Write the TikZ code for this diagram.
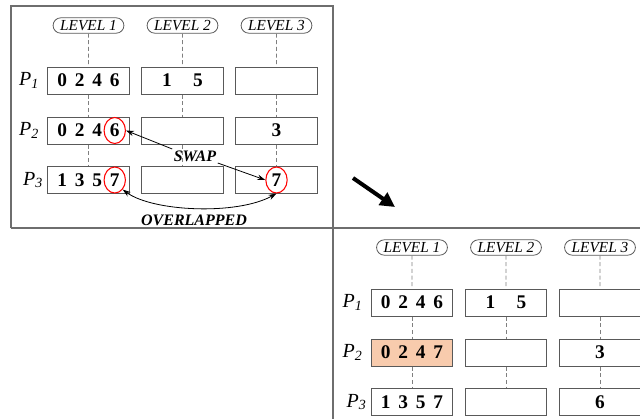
\documentclass[tikz,border=0pt]{standalone}
\usepackage{fontspec}
\setmainfont{Liberation Serif}
\usetikzlibrary{shapes.misc,shapes.geometric,arrows.meta,calc}

\definecolor{edge}{HTML}{595959}
\definecolor{guide}{HTML}{7F7F7F}
\definecolor{peach}{HTML}{F8CBAD}
\definecolor{frame}{HTML}{6E6E6E}

% one fixed-width slot per key inside a cell
\newcommand\dg[1]{\makebox[13.125pt]{#1}}
% process label P_i
\newcommand\proc[1]{\fontsize{15}{15}\selectfont\textit{P}\textsubscript{\textit{#1}}}

\begin{document}
\begin{tikzpicture}[x=0.75pt,y=-0.75pt,
  lvl/.style={rounded rectangle, draw=edge, line width=0.6pt, minimum width=54.75pt,
    minimum height=11.5pt, inner sep=0.8pt, font=\fontsize{11.5}{11.5}\selectfont\itshape},
  cell/.style={draw=edge, line width=0.75pt, fill=white, minimum width=61pt,
    minimum height=20.25pt, inner sep=0pt, font=\fontsize{14.5}{14.5}\selectfont\bfseries},
  guideline/.style={draw=guide, line width=0.6pt, dash pattern=on 3pt off 2pt},
  ring/.style={ellipse, draw=red, line width=0.8pt, minimum width=16pt,
    minimum height=19.5pt, inner sep=0pt},
  tag/.style={font=\fontsize{12}{12}\selectfont\bfseries\itshape, inner sep=1pt},
  link/.style={-{Stealth[length=6pt,width=4pt]}, line width=0.6pt},
  panelline/.style={draw=frame, line width=0.8pt}
]
\clip (0,0) rectangle (640,419);

% ---------- panel frames ----------
\draw[panelline] (11,228) -- (11,6) -- (333,6) -- (333,419);
\draw[panelline] (11,228) -- (640,228);

% ---------- before the swap ----------
\node[lvl] (tL1) at (88.5,25.5) {LEVEL 1};
\node[lvl] (tL2) at (182.5,25.5) {LEVEL 2};
\node[lvl] (tL3) at (276.5,25.5) {LEVEL 3};

\node (tP1) at (29,80.5) {\proc1};
\node (tP2) at (29,130.5) {\proc2};
\node (tP3) at (33,180) {\proc3};

\node[cell] (t11) at (88.5,80.5) {\dg0\dg2\dg4\dg6};
\node[cell] (t12) at (182.5,80.5) {1\hspace{16pt}5};
\node[cell] (t13) at (276.5,80.5) {};
\node[cell] (t21) at (88.5,130.5) {\dg0\dg2\dg4\dg6};
\node[cell] (t22) at (182.5,130.5) {};
\node[cell] (t23) at (276.5,130.5) {3};
\node[cell] (t31) at (88.5,180) {\dg1\dg3\dg5\dg7};
\node[cell] (t32) at (182.5,180) {};
\node[cell] (t33) at (276.5,180) {7};

\foreach \c in {1,2,3}{
  \draw[guideline] (tL\c) -- (t1\c);
  \draw[guideline] (t1\c) -- (t2\c);
  \draw[guideline] (t2\c) -- (t3\c);
}

\node[ring] (ringA) at ($(t21.center)+(26.25,0)$) {};
\node[ring] (ringB) at ($(t31.center)+(26.25,0)$) {};
\node[ring] (ringC) at (t33.center) {};

\node[tag] (swap) at (195,156) {SWAP};
\draw[link] (swap.north west) -- (ringA.east);
\draw[link] (swap.south east) -- (ringC.west);

\node[tag] (overlap) at (194,220) {OVERLAPPED};
\draw[{Stealth[length=6pt,width=4pt]}-{Stealth[length=6pt,width=4pt]}, line width=0.6pt]
  (ringB.south east) .. controls +(30,22) and +(-40,22) .. (ringC.south);

% ---------- transition ----------
\coordinate (go) at (353,178);
\coordinate (stop) at (395,207);
\draw[line width=3pt, -{Triangle[length=11pt,width=11pt]}] (go) -- (stop);

% ---------- after the swap ----------
\begin{scope}[shift={(323.5,222)}]
\node[lvl] (bL1) at (88.5,25.5) {LEVEL 1};
\node[lvl] (bL2) at (182.5,25.5) {LEVEL 2};
\node[lvl] (bL3) at (276.5,25.5) {LEVEL 3};

\node (bP1) at (29,80.5) {\proc1};
\node (bP2) at (29,130.5) {\proc2};
\node (bP3) at (33,180) {\proc3};

\node[cell] (b11) at (88.5,80.5) {\dg0\dg2\dg4\dg6};
\node[cell] (b12) at (182.5,80.5) {1\hspace{16pt}5};
\node[cell] (b13) at (276.5,80.5) {};
\node[cell, fill=peach] (b21) at (88.5,130.5) {\dg0\dg2\dg4\dg7};
\node[cell] (b22) at (182.5,130.5) {};
\node[cell] (b23) at (276.5,130.5) {3};
\node[cell] (b31) at (88.5,180) {\dg1\dg3\dg5\dg7};
\node[cell] (b32) at (182.5,180) {};
\node[cell] (b33) at (276.5,180) {6};

\foreach \c in {1,2,3}{
  \draw[guideline] (bL\c) -- (b1\c);
  \draw[guideline] (b1\c) -- (b2\c);
  \draw[guideline] (b2\c) -- (b3\c);
}
\end{scope}
\end{tikzpicture}
\end{document}
